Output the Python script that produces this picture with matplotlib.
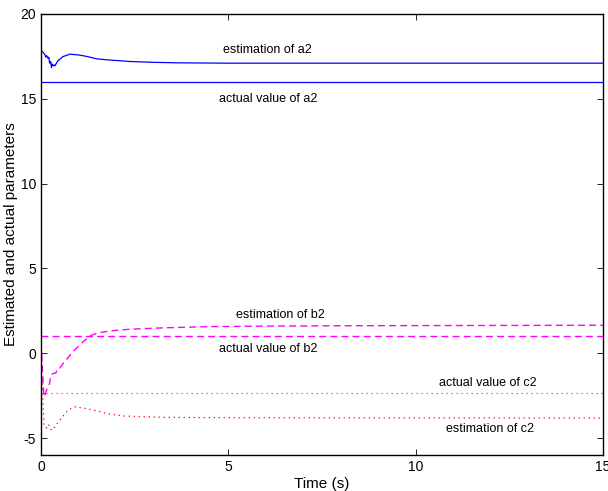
import numpy as np
import matplotlib
matplotlib.use('Agg')
import matplotlib.pyplot as plt

plt.rcParams['font.family'] = ['Liberation Sans', 'DejaVu Sans']
plt.rcParams['font.size'] = 10
plt.rcParams['axes.unicode_minus'] = False

# estimated a2
t_a = [0, 0.05, 0.1, 0.13, 0.15, 0.19, 0.21, 0.23, 0.26, 0.28, 0.3, 0.32, 0.35, 0.37, 0.45, 0.59, 0.77, 0.99, 1.22, 1.48, 1.75, 2.37, 3.0, 3.7, 5, 8, 15]
a_est = [17.86, 17.75, 17.62, 17.45, 17.55, 17.38, 17.45, 17.1, 17.2, 16.84, 17.05, 16.95, 17.0, 16.94, 17.24, 17.49, 17.63, 17.59, 17.5, 17.36, 17.3, 17.2, 17.15, 17.12, 17.1, 17.1, 17.1]
a_true = 16.0

# estimated b2
t_b = [0, 0.03, 0.07, 0.1, 0.14, 0.17, 0.23, 0.26, 0.32, 0.4, 0.45, 0.5, 0.59, 0.85, 1.12, 1.34, 1.48, 1.65, 2.0, 2.4, 3.3, 4.5, 6, 8, 10, 15]
b_est = [0.6, -0.6, -2.3, -2.57, -2.2, -2.07, -1.78, -1.3, -1.2, -1.15, -0.9, -0.88, -0.6, 0.08, 0.67, 1.06, 1.16, 1.25, 1.35, 1.42, 1.5, 1.57, 1.6, 1.62, 1.63, 1.65]
b_true = 1.0

# estimated c2
t_c = [0, 0.03, 0.05, 0.08, 0.15, 0.2, 0.28, 0.35, 0.45, 0.54, 0.72, 0.9, 1.17, 1.48, 1.75, 2.2, 3.26, 5, 8, 15]
c_est = [-1.2, -1.4, -2.5, -4.3, -4.4, -4.2, -4.55, -4.4, -4.1, -3.84, -3.35, -3.16, -3.25, -3.39, -3.55, -3.7, -3.78, -3.8, -3.81, -3.82]
c_true = -2.35

t_end = 15

fig = plt.figure(figsize=(6.08, 4.91), dpi=100)
ax = fig.add_axes([0.0674, 0.0733, 0.9244, 0.8982])

ax.plot(t_a, a_est, color='#0000ff', linewidth=0.9)
ax.plot([0, t_end], [a_true, a_true], color='#0000ff', linewidth=0.9)
ax.plot(t_b, b_est, color='#ff00ff', linewidth=1.0, linestyle=(0, (5, 3)))
ax.plot([0, t_end], [b_true, b_true], color='#ff00ff', linewidth=1.0, linestyle=(0, (5, 3)))
ax.plot(t_c, c_est, color='#ff0000', linewidth=0.9, linestyle=(0, (1, 3)))
ax.plot([0, t_end], [c_true, c_true], color='#ff4040', linewidth=0.9, linestyle=(0, (1, 3)))

ax.text(6.03, 17.9, 'estimation of a2', ha='center', va='center', fontsize=9)
ax.text(6.06, 15.0, 'actual value of a2', ha='center', va='center', fontsize=9)
ax.text(6.4, 2.24, 'estimation of b2', ha='center', va='center', fontsize=9)
ax.text(6.06, 0.24, 'actual value of b2', ha='center', va='center', fontsize=9)
ax.text(11.93, -1.76, 'actual value of c2', ha='center', va='center', fontsize=9)
ax.text(11.98, -4.47, 'estimation of c2', ha='center', va='center', fontsize=9)

ax.set_xlim(0, 15)
ax.set_ylim(-6, 20)
ax.set_xticks([0, 5, 10, 15])
ax.set_yticks([-5, 0, 5, 10, 15, 20])
ax.tick_params(direction='in', top=True, right=True, length=4, width=0.6, labelsize=10)
for s in ax.spines.values():
    s.set_linewidth(1.0)

ax.set_xlabel('Time (s)', fontsize=11, labelpad=2)
ax.set_ylabel('Estimated and actual parameters', fontsize=11, labelpad=2)

fig.savefig('out.png', dpi=100)
